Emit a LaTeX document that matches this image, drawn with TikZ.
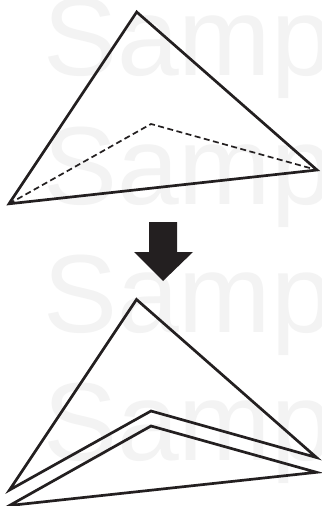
\documentclass[tikz,border=0pt]{standalone}
\usepackage{fontspec}
\setmainfont{Liberation Sans}
\definecolor{ink}{HTML}{231F20}
\definecolor{wm}{HTML}{F3F3F3}
\tikzset{
  solidedge/.style={draw=ink,line width=2.7pt,line join=miter,miter limit=10},
  dashedge/.style={draw=ink,line width=1.7pt,dash pattern=on 6pt off 3.5pt},
  mark text/.style={text=wm,font=\fontsize{111bp}{111bp}\selectfont,anchor=base west,inner sep=0pt}
}
\begin{document}
\begin{tikzpicture}[x=1bp,y=-1bp]
\useasboundingbox (0,0) rectangle (321,506);
\begin{scope}
\clip (0,0) rectangle (321,506);
\fill[white] (0,0) rectangle (321,506);
\node[mark text] (w1) at (43,76) {Sample};
\node[mark text] (w2) at (43,204) {Sample};
\node[mark text] (w3) at (43,332) {Sample};
\node[mark text] (w4) at (43,460) {Sample};
\node[mark text,anchor=base east] (e1) at (3,76) {Sample};
\node[mark text,anchor=base east] (e2) at (3,204) {Sample};
\node[mark text,anchor=base east] (e3) at (3,332) {Sample};
\node[mark text,anchor=base east] (e4) at (3,460) {Sample};
\end{scope}
% top triangle
\coordinate (ta) at (136.7,12);
\coordinate (tl) at (9,203.8);
\coordinate (tr) at (317,170);
\coordinate (tm) at (151,124);
\draw[solidedge] (ta) -- (tr) -- (tl) -- cycle;
\draw[dashedge] (tl) -- (tm) -- (tr);
% arrow
\fill[ink] (149,222) -- (177,222) -- (177,252) -- (193,252) -- (163,281) -- (134,252) -- (149,252) -- cycle;
% bottom pieces
\coordinate (ba) at (136.5,299.5);
\coordinate (bl) at (9.5,490);
\coordinate (br) at (316.5,457.5);
\coordinate (bm) at (151,411);
\coordinate (cl) at (9.5,505.5);
\coordinate (cr) at (316.5,472.3);
\coordinate (cm) at (151,426);
\draw[solidedge] (bl) -- (ba) -- (br) -- (bm) -- cycle;
\draw[solidedge] (cl) -- (cm) -- (cr) -- cycle;
\end{tikzpicture}
\end{document}
